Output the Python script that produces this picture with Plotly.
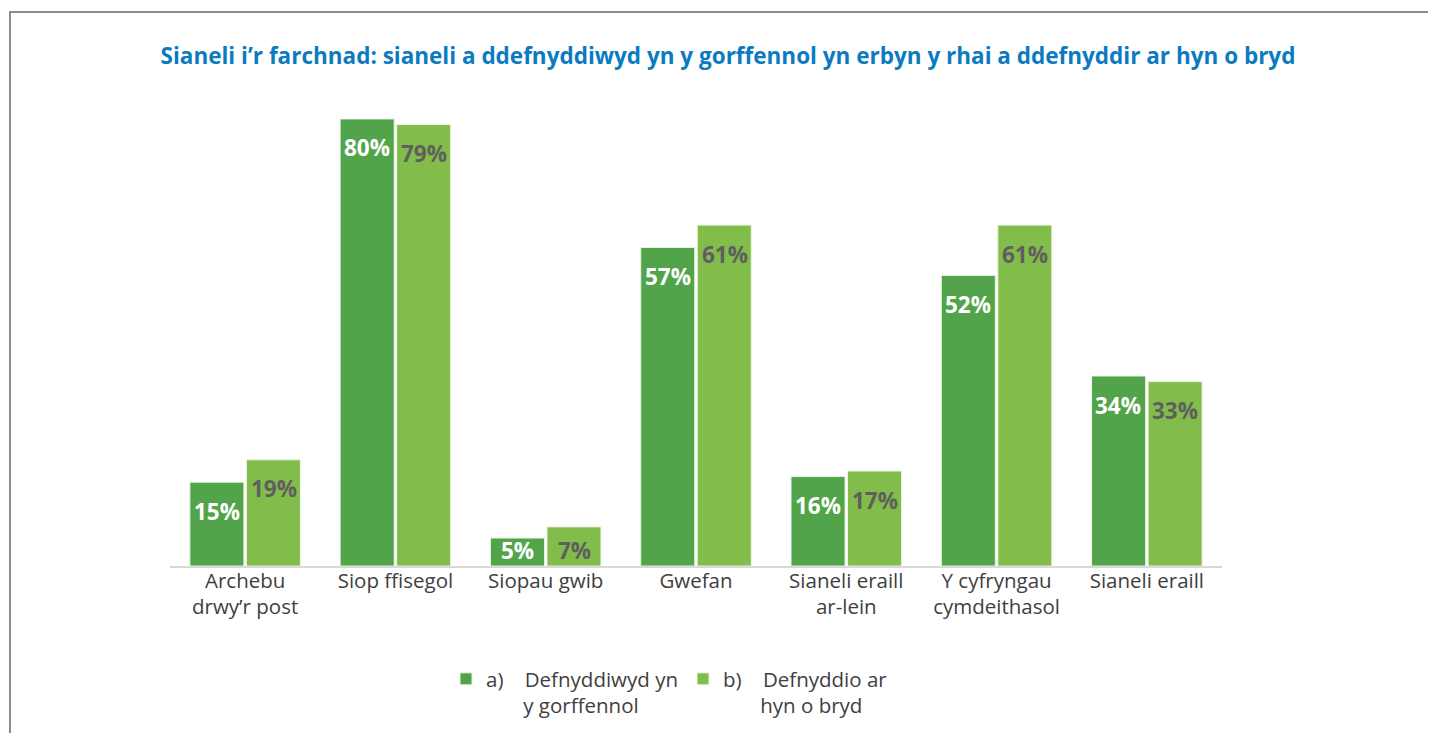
import plotly.graph_objects as go

categories = ["Archebu<br>drwy’r post", "Siop ffisegol", "Siopau gwib", "Gwefan",
              "Sianeli eraill<br>ar-lein", "Y cyfryngau<br>cymdeithasol", "Sianeli eraill"]
past_values = [15, 80, 5, 57, 16, 52, 34]
current_values = [19, 79, 7, 61, 17, 61, 33]
NB = "\u00a0"
series_names = ["a)" + NB * 4 + "Defnyddiwyd yn<br>" + NB * 7 + "y gorffennol",
                "b)" + NB * 4 + "Defnyddio ar<br>" + NB * 7 + "hyn o bryd"]
title_text = "Sianeli i’r farchnad: sianeli a ddefnyddiwyd yn y gorffennol yn erbyn y rhai a ddefnyddir ar hyn o bryd"

DARK = "#52a44b"
LIGHT = "#82bc4b"
FONT = "Open Sans"

W, H = 1428, 725
L, T, R, B = 162, 83, 214, 167
PW, PH = W - L - R, H - T - B

fig = go.Figure()
fig.add_trace(go.Bar(x=categories, y=past_values, name=series_names[0],
                     marker=dict(color=DARK, line=dict(color="#e8f2e6", width=1))))
fig.add_trace(go.Bar(x=categories, y=current_values, name=series_names[1],
                     marker=dict(color=LIGHT, line=dict(color="#eef5e6", width=1))))

annotations = []
for vals, shift, col in [(past_values, -28.5, "white"), (current_values, 28.5, "#5f5f5f")]:
    for c, v in zip(categories, vals):
        if v >= 10:
            y, ys = v, -29
        else:
            y, ys = 0, 16
        annotations.append(dict(x=c, y=y, xref="x", yref="y", text=f"{v}%", showarrow=False,
                                xshift=shift, yshift=ys, yanchor="middle",
                                font=dict(family=FONT, size=22.5, color=col, weight="bold")))

fig.update_layout(
    width=W, height=H,
    margin=dict(l=L, r=R, t=T, b=B, autoexpand=False),
    paper_bgcolor="white", plot_bgcolor="white",
    barmode="group", bargap=0.248, bargroupgap=0.044,
    title=dict(text=title_text, x=(728 - 8) / W, xref="container", xanchor="center",
               y=1 - 48 / H, yref="container", yanchor="middle",
               font=dict(family=FONT, size=22.5, color="#0b7bc1", weight="bold")),
    font=dict(family=FONT, size=20.5, color="#404040"),
    xaxis=dict(showline=True, linecolor="#d9d9d9", linewidth=2, ticks="", ticklabelstandoff=-5,
               tickfont=dict(family=FONT, size=20.5, color="#404040"), showgrid=False),
    yaxis=dict(range=[0, 85], visible=False, showgrid=False, zeroline=False),
    legend=dict(orientation="h", x=(438 - L) / PW, xanchor="left", y=-(651 - (H - B)) / PH, yanchor="top",
                valign="top", font=dict(family=FONT, size=20.5, color="#404040"),
                itemwidth=30, traceorder="normal"),
    annotations=annotations,
    shapes=[dict(type="rect", xref="paper", yref="paper",
                 x0=(2 - L) / PW, x1=(1460 - L) / PW,
                 y0=((H - B) - 4) / PH, y1=((H - B) - 760) / PH,
                 line=dict(color="#8c8c8c", width=2), fillcolor="rgba(0,0,0,0)", layer="below")],
)

fig.write_html("out.html")
